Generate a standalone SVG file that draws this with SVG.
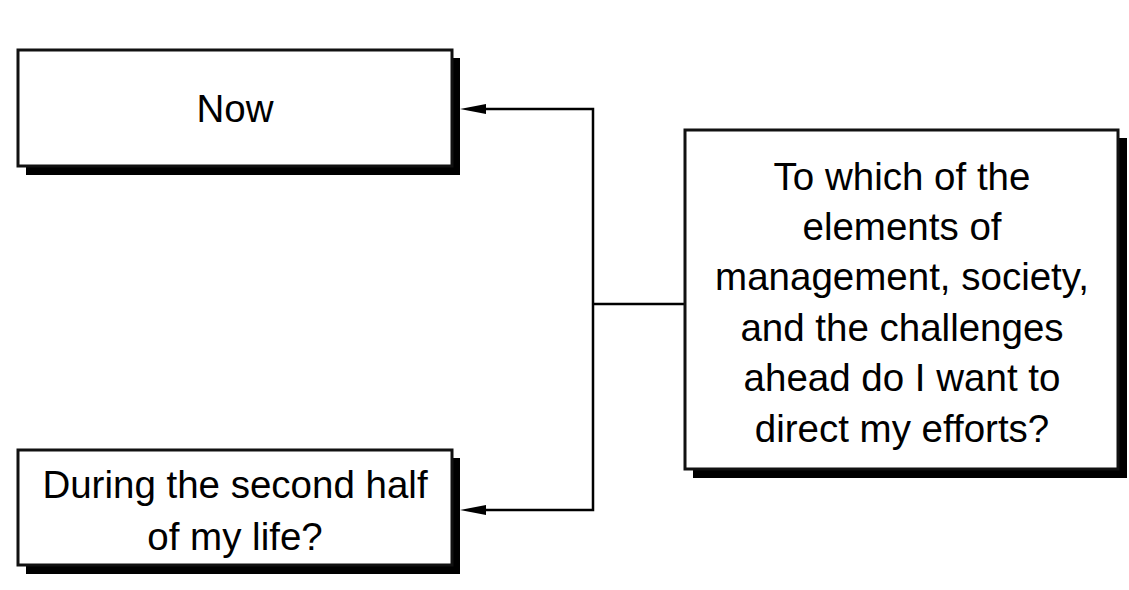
<svg xmlns="http://www.w3.org/2000/svg" width="1129" height="590" viewBox="0 0 1129 590">
<style>
.shadow{fill:#000}
.box{fill:#fff;stroke:#111;stroke-width:3}
.t{font-family:"Comic Sans MS","Liberation Sans",Arial,sans-serif;font-size:38.5px;fill:#000;text-anchor:middle}
.conn{fill:none;stroke:#000;stroke-width:2.5}
</style>
<rect width="1129" height="590" fill="#fff"/>
<g id="connectors">
<path class="conn" d="M685,304 H593"/>
<path class="conn" d="M593,304 V109 H485"/>
<path class="conn" d="M593,304 V510 H485"/>
<polygon points="460,109 486,104 486,114" fill="#000"/>
<polygon points="460,510 486,505 486,515" fill="#000"/>
</g>
<g id="node-now">
<rect class="shadow" x="26" y="58" width="434" height="117"/>
<rect class="box" x="18" y="50" width="434" height="116"/>
<text class="t" x="235" y="122">Now</text>
</g>
<g id="node-second-half">
<rect class="shadow" x="26" y="458" width="434" height="116"/>
<rect class="box" x="18" y="450" width="434" height="115"/>
<text class="t" x="235" y="498">During the second half</text>
<text class="t" x="235" y="550">of my life?</text>
</g>
<g id="node-question">
<rect class="shadow" x="693" y="138" width="434" height="340"/>
<rect class="box" x="685" y="130" width="433" height="339"/>
<text class="t" x="902" y="190">To which of the</text>
<text class="t" x="902" y="240">elements of</text>
<text class="t" x="902" y="290">management, society,</text>
<text class="t" x="902" y="341">and the challenges</text>
<text class="t" x="902" y="391">ahead do I want to</text>
<text class="t" x="902" y="442">direct my efforts?</text>
</g>
</svg>
